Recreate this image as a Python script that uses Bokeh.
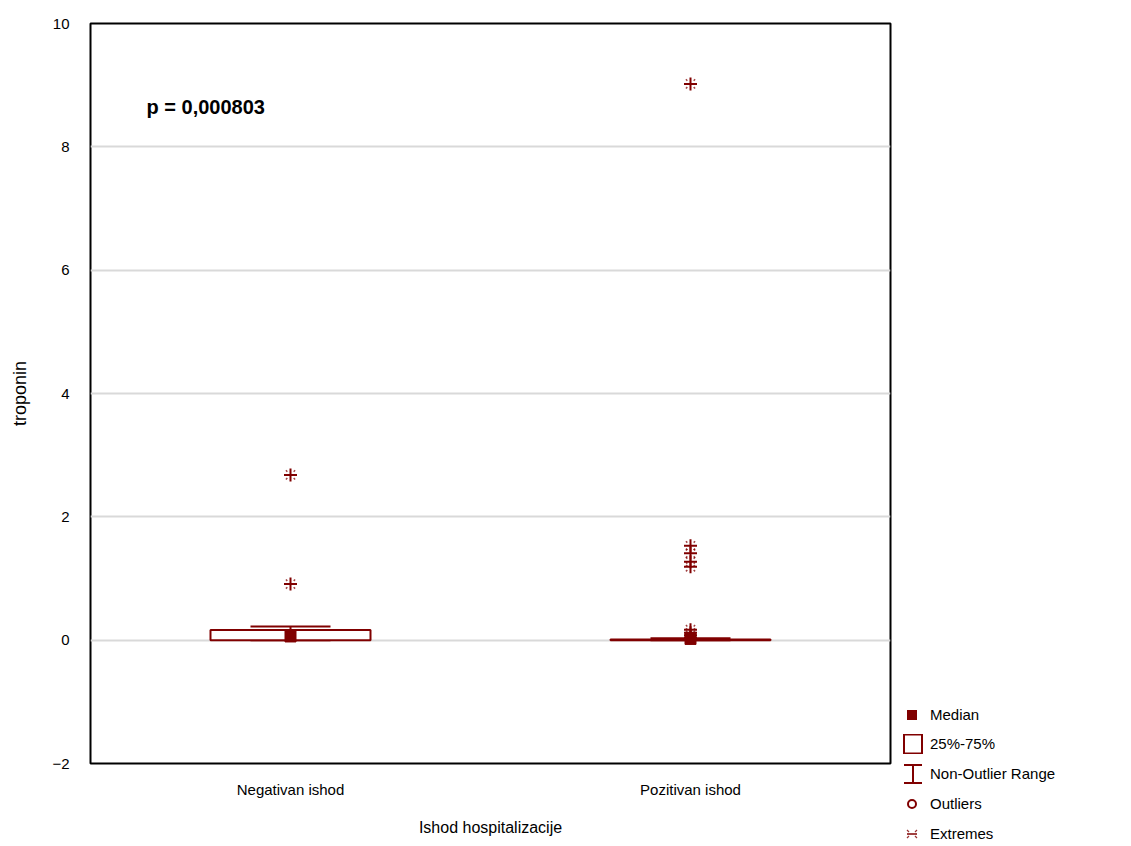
from bokeh.plotting import figure
from bokeh.layouts import row
from bokeh.models import (FactorRange, Range1d, FixedTicker, Label, Whisker, TeeHead,
                          ColumnDataSource, Div)
from bokeh.embed import file_html
from bokeh.resources import INLINE

# ---- data ----
categories = ["Negativan ishod", "Pozitivan ishod"]
q1 = [0.0, 0.0]
q3 = [0.165, 0.01]
medians = [0.06, 0.02]
whisker_low = [0.0, 0.0]
whisker_high = [0.22, 0.03]
extremes_negativan = [2.68, 0.91]
extremes_pozitivan = [9.02, 1.53, 1.41, 1.27, 1.19, 0.17, 0.12, 0.08, 0.04]
y_ticks = [-2, 0, 2, 4, 6, 8, 10]
legend_labels = ["Median", "25%-75%", "Non-Outlier Range", "Outliers", "Extremes"]
p_text = "p = 0,000803"

RED = "#800000"
FONT = "Liberation Sans"

H = 838
p = figure(x_range=FactorRange(factors=categories), y_range=Range1d(-2, 10),
           width=892, height=H, min_border_left=90, min_border_right=2,
           min_border_top=23, min_border_bottom=71,
           output_backend="svg", toolbar_location=None)

p.xgrid.grid_line_color = None
p.ygrid.grid_line_color = "#d9d9d9"
p.ygrid.grid_line_width = 2
p.yaxis.ticker = FixedTicker(ticks=y_ticks)
p.outline_line_color = "black"
p.outline_line_width = 2
for ax in (p.xaxis[0], p.yaxis[0]):
    ax.axis_line_color = None
    ax.major_tick_line_color = None
    ax.major_tick_out = 0
    ax.major_tick_in = 0
    ax.minor_tick_line_color = None
    ax.minor_tick_out = 0
    ax.major_label_text_font = FONT
    ax.major_label_text_font_size = "15px"
    ax.major_label_text_color = "black"
    ax.axis_label_text_font = FONT
    ax.axis_label_text_font_style = "normal"
    ax.axis_label_text_color = "black"
p.xaxis.major_label_standoff = 17
p.yaxis.major_label_standoff = 21
p.xaxis.axis_label = "Ishod hospitalizacije"
p.xaxis.axis_label_text_font_size = "16px"
p.xaxis.axis_label_standoff = 18
p.yaxis.axis_label = "troponin"
p.yaxis.axis_label_text_font_size = "18px"
p.yaxis.axis_label_standoff = 19

# whiskers
wsrc = ColumnDataSource(dict(base=categories, lower=whisker_low, upper=whisker_high))
w = Whisker(base="base", lower="lower", upper="upper", source=wsrc,
            line_color=RED, line_width=2,
            upper_head=TeeHead(size=80, line_color=RED, line_width=2),
            lower_head=TeeHead(size=80, line_color=RED, line_width=2))
w.level = "underlay"
p.add_layout(w)

# boxes
p.vbar(x=categories, width=0.4, bottom=q1, top=q3, fill_color="white",
       line_color=RED, line_width=2)
# medians
p.scatter(x=categories, y=medians, marker="square", size=11, fill_color=RED,
          line_color=RED)

# extremes
ext_x = [categories[0]] * len(extremes_negativan) + [categories[1]] * len(extremes_pozitivan)
ext_y = extremes_negativan + extremes_pozitivan
p.scatter(x=ext_x, y=ext_y, marker="x", size=13, line_color=RED, line_width=1.5,
          line_alpha=0.75, line_dash="2 9")
p.scatter(x=ext_x, y=ext_y, marker="cross", size=13, line_color=RED, line_width=2)

p.add_layout(Label(x=0.14, y=8.64, text=p_text, text_font=FONT,
                   text_font_size="20px", text_font_style="bold",
                   text_baseline="middle", text_color="black"))

# ---- legend panel (HTML, to the right of the frame) ----
icons = [
    f'<rect x="4" y="5" width="10" height="10" fill="{RED}"/>',
    f'<rect x="1" y="0.5" width="18" height="19" fill="white" stroke="{RED}" stroke-width="2"/>',
    f'<path d="M1 1 H19 M10 1 V19 M1 19 H19" fill="none" stroke="{RED}" stroke-width="2"/>',
    f'<circle cx="9" cy="10" r="4" fill="white" stroke="{RED}" stroke-width="2"/>',
    f'<path d="M4 10 H14" stroke="{RED}" stroke-width="1.5"/>'
    f'<path d="M4 6 L6 8 M14 6 L12 8 M4 14 L6 12 M14 14 L12 12" stroke="{RED}" '
    f'stroke-width="1.2" stroke-opacity="0.8"/>',
]
rows_y = [715, 744, 774, 804, 834]
items = []
for icon, lab, ry in zip(icons, legend_labels, rows_y):
    items.append(
        f'<div style="position:absolute; left:11px; top:{ry - 10}px; height:20px; '
        f'display:flex; align-items:center; white-space:nowrap;">'
        f'<svg width="20" height="20" style="display:block">{icon}</svg>'
        f'<span style="margin-left:7px; font-family:\'{FONT}\'; font-size:15px; '
        f'color:black;">{lab}</span></div>'
    )
legend_html = (f'<div style="position:relative; width:200px; height:{H}px;">'
               + "".join(items) + '</div>')
legend = Div(text=legend_html, width=200, height=H,
             styles={"margin": "0", "padding": "0"})

layout = row(p, legend)
open("out.html", "w").write(file_html(layout, INLINE))
